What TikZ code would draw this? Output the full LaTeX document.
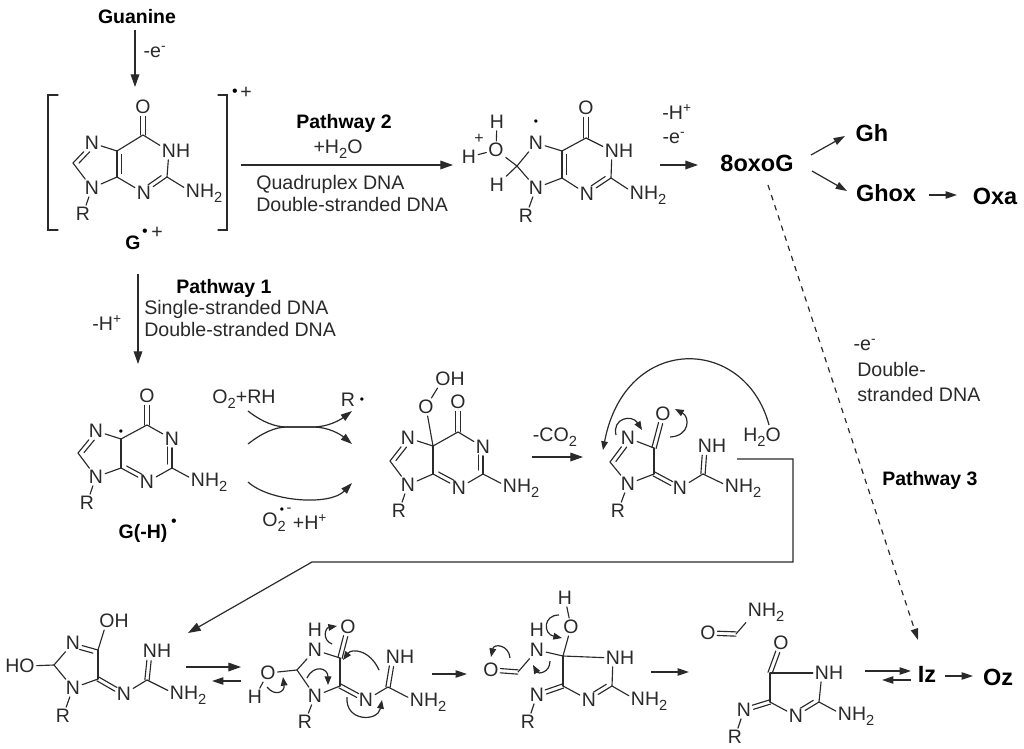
\documentclass[tikz,border=0pt]{standalone}
\usepackage{fontspec}
\setmainfont{Liberation Sans}
\usetikzlibrary{arrows.meta,calc}
\definecolor{ink}{HTML}{2A2A2A}
\tikzset{
  bond/.style={draw=ink,line width=0.85pt,line cap=round},
  atom/.style={inner sep=1.4pt,text=ink,font=\fontsize{14.6}{16}\selectfont},
  lab/.style={inner sep=0pt,text=ink,font=\fontsize{14.7}{17}\selectfont},
  blab/.style={inner sep=0pt,text=black,font=\fontsize{14.6}{17}\selectfont\bfseries},
  blabb/.style={inner sep=0pt,text=black,font=\fontsize{17.6}{20}\selectfont\bfseries},
  rxn/.style={draw=ink,line width=0.9pt,-{Triangle[length=9.5pt,width=6.5pt]}},
  rxns/.style={draw=ink,line width=0.9pt,-{Triangle[length=8.5pt,width=5.5pt]}},
  curly/.style={draw=ink,line width=0.9pt,-{Triangle[length=6.5pt,width=5pt]}},
  dashrx/.style={rxns,dashed,dash pattern=on 4pt off 4pt},
  rad/.style={inner sep=0pt,text=black,font=\fontsize{9}{9}\selectfont},
}
\newcommand\sbt[1]{\raisebox{-0.26em}{\fontsize{11}{11}\selectfont #1}}
\newcommand\atm[3]{\node[atom] (#1) at (#2) {#3};}
\newcommand\car[2]{\coordinate (#1) at (#2);}
\newcommand\bnds[1]{\foreach \p/\q in {#1} {\draw[bond] (\p) -- (\q);}}
% ring double bond: main line plus inner line to the left of a->b
\newcommand\dbl[4]{\draw[bond] (#1) -- (#2);
  \draw[bond,shorten <=#3,shorten >=#4] ($(#1)!3.3pt!90:(#2)$) -- ($(#2)!3.3pt!-90:(#1)$);}
% centred double bond
\newcommand\dbc[4]{%
  \draw[bond,shorten <=#3,shorten >=#4] ($(#1)!1.6pt!90:(#2)$) -- ($(#2)!1.6pt!-90:(#1)$);
  \draw[bond,shorten <=#3,shorten >=#4] ($(#1)!1.6pt!-90:(#2)$) -- ($(#2)!1.6pt!90:(#1)$);}
\newcommand\rx[4][rxn]{\coordinate (#2s) at (#3); \coordinate (#2e) at (#4); \draw[#1] (#2s) -- (#2e);}
\newcommand\curl[5]{\coordinate (#1s) at (#2); \coordinate (#1e) at (#5);
  \draw[curly] (#1s) .. controls (#3) and (#4) .. (#1e);}
\newcommand\NHt{N\rlap{H}}
\newcommand\NHtwo{N\rlap{H\sbt{2}}}
\begin{document}
\begin{tikzpicture}[x=0.75pt,y=-0.75pt]
\useasboundingbox (0,0) rectangle (1024,749);
\fill[white] (0,0) rectangle (1024,749);

% ---------- top left: guanine radical cation
\node[blab] (guanine) at (137,17) {Guanine};
\rx{a1}{135,30}{135,87}
\node[lab] (mine1) at (155,52) {-e\textsuperscript{-}};
\draw[bond] (58,95) -- (48,95) -- (48,230) -- (58,230);
\draw[bond] (218,95) -- (227,95) -- (227,230) -- (218,230);
\node[rad,font=\fontsize{12}{12}\selectfont] (brdot) at (235,93) {•};
\node[lab] (brplus) at (246,93) {+};
\atm{ao}{143,107}{O} \car{ac6}{143,135} \atm{an1}{169,151}{\NHt}
\car{ac2}{167,177} \atm{anh}{193,193}{\NHtwo} \atm{an3}{144,193}{N}
\car{ac4}{117,177} \car{ac5}{117,151} \atm{an7}{92,143}{N}
\car{ac8}{73,163} \atm{an9}{92,188}{N} \atm{ar}{83,214}{R}
\bnds{ac6/an1,an1/ac2,an3/ac4,ac5/ac6,ac5/an7,ac8/an9,an9/ac4,an9/ar,ac2/anh}
\dbc{ao}{ac6}{7pt}{0pt}
\dbl{ac5}{ac4}{2.5pt}{2.5pt}
\dbl{an3}{ac2}{6pt}{3pt}
\dbl{an7}{ac8}{6pt}{3pt}
\node[blab] (gcat) at (133,243) {G};
\node[rad,font=\fontsize{12}{12}\selectfont] (gdot) at (145,233) {•};
\node[lab] (gplus) at (157,233) {+};

% ---------- pathway 2
\rx{a2}{241,165}{453,165}
\node[blab] (p2) at (344,123) {Pathway 2};
\node[lab] (water) at (338,149) {+H\sbt{2}O};
\node[lab,anchor=west] (qd) at (256,184) {Quadruplex DNA};
\node[lab,anchor=west] (ds1) at (256,204) {Double-stranded DNA};
\atm{bo}{586,108}{O} \car{bc6}{586,138} \atm{bn1}{612,151}{\NHt}
\car{bc2}{611,178} \atm{bnh}{637,195}{\NHtwo} \atm{bn3}{587,194}{N}
\car{bc4}{562,178} \car{bc5}{562,151} \atm{bn7}{536,143}{N}
\car{bc8}{517,166} \atm{bn9}{536,188}{N} \atm{br}{526,216}{R}
\atm{boh}{496,150}{O} \atm{bh1}{497,122}{H} \atm{bh2}{469,157}{H} \atm{bh3}{497,185}{H}
\node[lab,font=\fontsize{12}{12}\selectfont] (bplus) at (479,139) {+};
\node[rad] (bdot) at (536,123) {•};
\bnds{bc6/bn1,bn1/bc2,bn3/bc4,bc5/bc6,bc5/bn7,bc8/bn7,bc8/bn9,bn9/bc4,bn9/br,bc2/bnh,bc8/boh,boh/bh1,boh/bh2,bc8/bh3}
\dbc{bo}{bc6}{7pt}{0pt}
\dbl{bc5}{bc4}{2.5pt}{2.5pt}
\dbl{bn3}{bc2}{6pt}{3pt}
\rx{a3}{660,165}{698,165}
\node[lab] (minh) at (677,112) {-H\textsuperscript{+}};
\node[lab] (mine2) at (674,138) {-e\textsuperscript{-}};

% ---------- right top
\node[blabb] (oxog) at (757,163) {8oxoG};
\node[blabb] (gh) at (872,133) {Gh};
\node[blabb] (ghox) at (886,193) {Ghox};
\node[blabb] (oxa) at (995,196) {Oxa};
\rx[rxns]{a4}{811,155}{845,136}
\rx[rxns]{a5}{812,171}{847,191}
\rx[rxns]{a6}{929,195}{957,195}

% ---------- pathway 3
\rx[dashrx]{a7}{768,185}{918,640}
\node[lab] (mine3) at (865,345) {-e\textsuperscript{-}};
\node[lab,anchor=west] (ds3a) at (857,369) {Double-};
\node[lab,anchor=west] (ds3b) at (857,394) {stranded DNA};
\node[blab,anchor=west] (p3) at (882,480) {Pathway 3};

% ---------- pathway 1
\rx{a8}{138,274}{138,364}
\node[lab] (minh2) at (107,323) {-H\textsuperscript{+}};
\node[blab,anchor=west] (p1) at (176,288) {Pathway 1};
\node[lab,anchor=west] (ss1) at (144,309) {Single-stranded DNA};
\node[lab,anchor=west] (ds2) at (144,329) {Double-stranded DNA};

% ---------- G(-H) radical
\atm{co}{147,396}{O} \car{cc6}{147,425} \atm{cn1}{172,439}{N}
\car{cc2}{172,468} \atm{cnh}{198,482}{\NHtwo} \atm{cn3}{147,482}{N}
\car{cc4}{121,468} \car{cc5}{121,439} \atm{cn7}{96,431}{N}
\car{cc8}{78,453} \atm{cn9}{96,477}{N} \atm{cr}{87,503}{R}
\bnds{cc6/cn1,cc2/cn3,cc4/cc5,cc5/cc6,cc5/cn7,cc8/cn9,cn9/cc4,cn9/cr,cc2/cnh}
\dbc{co}{cc6}{7pt}{0pt}
\dbl{cc2}{cn1}{3pt}{6pt}
\dbl{cc4}{cn3}{3pt}{6pt}
\dbl{cn7}{cc8}{6pt}{3pt}
\node[rad] (cdot) at (121,433) {•};
\node[blab] (ghlab) at (143,533) {G(-H)};
\node[rad,font=\fontsize{12}{12}\selectfont] (ghdot) at (174,523) {•};

% ---------- O2 arrows
\node[lab] (o2rh) at (244,399) {O\sbt{2}+RH};
\node[lab] (rr) at (348,400) {R};
\node[rad] (rrdot) at (362,401) {•};
\coordinate (x1s) at (248,411); \coordinate (x1e) at (352,411);
\coordinate (x2s) at (248,444); \coordinate (x2e) at (352,444);
\coordinate (x3s) at (248,482); \coordinate (x3e) at (352,483);
\draw[rxns] (x1s) .. controls (262,422) and (275,427) .. (287,427) -- (313,427) .. controls (328,427) and (340,420) .. (x1e);
\draw[rxns] (x2s) .. controls (262,433) and (275,427) .. (287,427) -- (313,427) .. controls (328,427) and (340,434) .. (x2e);
\draw[rxns] (x3s) .. controls (270,502) and (330,506) .. (x3e);
\node[lab] (o2m) at (274,522) {O\sbt{2}};
\node[rad] (o2d) at (282,511) {•};
\node[lab,font=\fontsize{11}{11}\selectfont] (o2mn) at (289,510) {-};
\node[lab] (hplus) at (310,522) {+H\textsuperscript{+}};

% ---------- peroxide
\atm{doh}{443,379}{O\rlap{H}} \atm{do}{426,407}{O}
\car{dc5}{433,446} \atm{do2}{458,402}{O} \car{dc6}{458,432} \atm{dn1}{483,447}{N}
\car{dc2}{483,474} \atm{dnh}{510,488}{\NHtwo} \atm{dn3}{459,488}{N}
\car{dc4}{433,474} \atm{dn7}{408,438}{N} \car{dc8}{390,461} \atm{dn9}{408,485}{N} \atm{dr}{399,511}{R}
\bnds{dc5/do,do/doh,dc5/dc6,dc6/dn1,dc4/dc5,dc5/dn7,dc8/dn9,dn9/dc4,dn9/dr,dc2/dnh,dc2/dn3}
\dbc{do2}{dc6}{7pt}{0pt}
\dbl{dc2}{dn1}{3pt}{6pt}
\dbl{dc4}{dn3}{3pt}{6pt}
\dbl{dn7}{dc8}{6pt}{3pt}
\rx{a9}{532,457}{583,457}
\node[lab] (co2) at (555,437) {-CO\sbt{2}};

% ---------- imidazolone
\atm{en7}{628,438}{N} \car{ec5}{654,448} \atm{eo}{663,414}{O} \car{ec4}{654,474}
\atm{en9}{628,484}{N} \car{ec8}{610,462} \atm{er}{618,511}{R} \atm{en}{680,488}{N}
\car{eg}{703,474} \atm{enh}{705,446}{\NHt} \atm{enh2}{732,488}{\NHtwo}
\node[atom] (ew) at (762,437) {H\sbt{2}O};
\bnds{en7/ec5,ec5/ec4,ec4/en9,en9/ec8,en9/er,en/eg,eg/enh2}
\dbl{en7}{ec8}{6pt}{3pt}
\dbc{eo}{ec5}{7pt}{0pt}
\dbc{ec4}{en}{0pt}{7pt}
\dbc{enh}{eg}{7pt}{0pt}
\curl{c1}{769,425}{745,335}{625,333}{603,450}
\curl{c2}{616,435}{612,418}{632,414}{642,430}
\curl{c3}{670,437}{690,436}{690,417}{675,409}
\coordinate (w1) at (737,459); \coordinate (w2) at (793,459);
\coordinate (w3) at (793,562); \coordinate (w4) at (312,562); \coordinate (w5) at (188,633);
\draw[rxn] (w1) -- (w2) -- (w3) -- (w4) -- (w5);

% ---------- bottom 1
\atm{foh}{107,621}{O\rlap{H}} \car{fc4}{98,650} \atm{fn3}{73,643}{N} \car{fc2}{54,665}
\atm{fho}{27,666}{\llap{H}O} \atm{fn1}{73,688}{N} \atm{fr}{63,716}{R} \car{fc5}{98,679}
\atm{fn}{124,694}{N} \car{fg}{147,680} \atm{fnh}{150,651}{\NHt} \atm{fnh2}{177,695}{\NHtwo}
\bnds{fn3/fc2,fc2/fho,fc4/foh,fc4/fc5,fc5/fn1,fn1/fc2,fn1/fr,fn/fg,fg/fnh2}
\dbl{fc4}{fn3}{3pt}{6pt}
\dbc{fc5}{fn}{0pt}{7pt}
\dbc{fnh}{fg}{7pt}{0pt}
\rx{a10}{186,667}{241,667}
\rx[rxns]{a11}{241,681}{212,681}

% ---------- bottom 2
\atm{go}{268,673}{O} \atm{gh1}{255,697}{H} \car{gc2}{297,670} \atm{gn3}{315,650}{N}
\atm{gh2}{315,630}{H} \car{gc4}{340,658} \atm{go2}{348,627}{O} \atm{gn1}{315,696}{N}
\atm{gr}{305,722}{R} \car{gc5}{340,686} \atm{gn}{366,700}{N} \car{gg}{388,687}
\atm{gnh}{393,657}{\NHt} \atm{gnh2}{417,702}{\NHtwo}
\bnds{go/gc2,go/gh1,gc2/gn3,gn3/gc4,gc4/gc5,gc5/gn1,gn1/gc2,gn1/gr,gn/gg,gg/gnh2}
\dbc{go2}{gc4}{7pt}{0pt}
\dbc{gc5}{gn}{0pt}{7pt}
\dbc{gnh}{gg}{7pt}{0pt}
\curl{c4}{332,644}{322,640}{325,628}{337,626}
\curl{c5}{267,687}{275,697}{285,692}{283,677}
\curl{c6}{307,678}{314,664}{328,668}{328,685}
\curl{c7}{379,670}{370,650}{352,648}{343,660}
\curl{c8}{347,697}{345,722}{378,722}{382,700}
\rx[rxns]{a12}{432,674}{467,674}

% ---------- bottom 3
\atm{hh}{565,598}{H} \atm{ho}{571,627}{O} \car{hc5}{563,656} \atm{hh2}{537,630}{H}
\atm{hn}{537,650}{N} \car{hc}{518,672} \atm{ho2}{491,670}{O} \car{hc4}{563,686}
\atm{hn1}{613,658}{\NHt} \car{hc2}{612,686} \atm{hn3}{589,700}{N} \atm{hnh}{638,701}{\NHtwo}
\atm{hn4}{537,695}{N} \atm{hr}{528,722}{R}
\bnds{hh/ho,ho/hc5,hc5/hn,hn/hc,hc5/hc4,hc5/hn1,hn1/hc2,hn3/hc4,hn4/hr,hc2/hnh}
\dbc{ho2}{hc}{7pt}{0pt}
\dbl{hn3}{hc2}{6pt}{3pt}
\dbc{hc4}{hn4}{0pt}{7pt}
\curl{c9}{559,615}{543,615}{543,634}{562,638}
\curl{c10}{510,658}{509,645}{494,643}{491,657}
\curl{c11}{550,661}{550,673}{538,674}{533,665}
\rx[rxns]{a13}{651,672}{689,672}

% ---------- bottom 4
\atm{inh}{755,612}{\NHtwo} \car{ic}{736,634} \atm{io}{708,633}{O}
\atm{jo}{781,643}{O} \car{jc5}{770,673} \atm{jn1}{822,673}{\NHt} \car{jc2}{819,702}
\atm{jn3}{796,716}{N} \car{jc4}{770,702} \atm{jnh}{845,716}{\NHtwo} \atm{jn}{744,710}{N} \atm{jr}{735,737}{R}
\bnds{ic/inh,jc5/jn1,jn1/jc2,jn3/jc4,jc4/jc5,jn/jr,jc2/jnh}
\dbc{io}{ic}{7pt}{0pt}
\dbc{jo}{jc5}{7pt}{0pt}
\dbl{jn3}{jc2}{6pt}{3pt}
\dbc{jc4}{jn}{0pt}{7pt}

% ---------- Iz, Oz
\node[blabb] (iz) at (927,674) {Iz};
\node[blabb] (oz) at (998,677) {Oz};
\rx[rxns]{a14}{865,671}{911,671}
\rx[rxns]{a15}{911,680}{882,680}
\rx[rxns]{a16}{945,676}{973,676}
\end{tikzpicture}
\end{document}
